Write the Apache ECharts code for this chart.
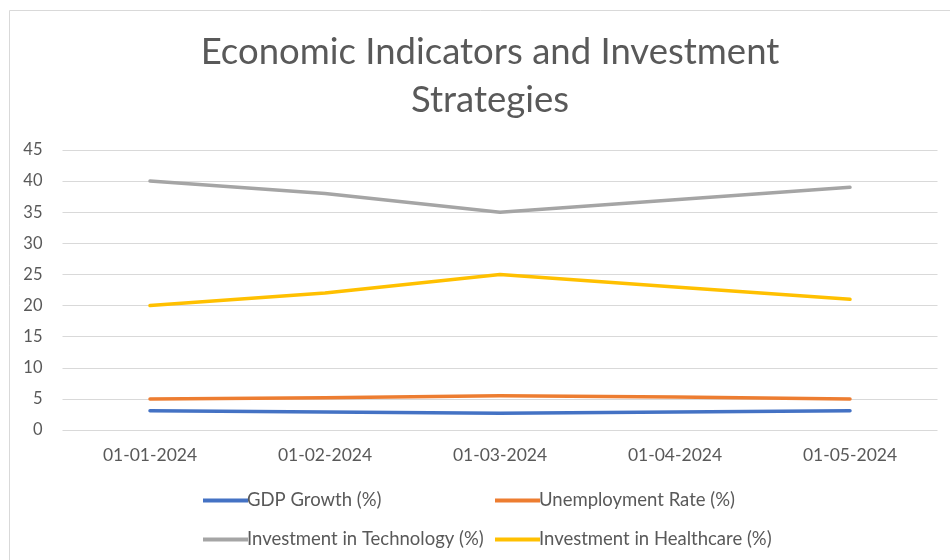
<!DOCTYPE html>
<html><head><meta charset="utf-8">
<script src="https://cdn.jsdelivr.net/npm/echarts@6/dist/echarts.min.js"></script>
<style>html,body{margin:0;padding:0;background:#fff}#c{width:950px;height:560px}</style>
</head><body><div id="c"></div>
<script>
const categories = ['01-01-2024','01-02-2024','01-03-2024','01-04-2024','01-05-2024'];
const gdpGrowth = [3.1, 2.9, 2.7, 2.9, 3.1];
const unemployment = [5.0, 5.2, 5.5, 5.3, 5.0];
const techInvestment = [40, 38, 35, 37, 39];
const healthInvestment = [20, 22, 25, 23, 21];
const seriesNames = ['GDP Growth (%)','Unemployment Rate (%)','Investment in Technology (%)','Investment in Healthcare (%)'];
const colors = ['#4472C4','#ED7D31','#A5A5A5','#FFC000'];
const yTicks = {min:0, max:45, interval:5};

const font = 'Lato, "Liberation Sans", sans-serif';
const chart = echarts.init(document.getElementById('c'));
const data = [gdpGrowth, unemployment, techInvestment, healthInvestment];
const legendPos = [[198,486],[490,486],[198,525],[490,525]];
chart.setOption({
  animation:false,
  color: colors,
  title:{text:'Economic Indicators and Investment\nStrategies', left:485, textAlign:'center', top:23,
    textStyle:{fontFamily:font, fontSize:36.5, fontWeight:'normal', color:'#595959', lineHeight:48}},
  graphic:[{type:'rect', shape:{x:9.5,y:10.5,width:960,height:560}, style:{fill:null, stroke:'#D9D9D9', lineWidth:1}, silent:true}],
  legend: seriesNames.map((n,i)=>({data:[n], left:legendPos[i][0], top:legendPos[i][1], itemWidth:45, itemHeight:4, itemGap:0,
    icon:'rect', textStyle:{fontFamily:font, fontSize:18.5, color:'#595959', padding:[0,0,0,-6]}})),
  grid:{left:62.5, right:12.5, top:150, bottom:130},
  xAxis:{type:'category', data:categories, boundaryGap:true,
    axisLine:{show:false}, axisTick:{show:false},
    axisLabel:{fontFamily:font, fontSize:17.5, color:'#595959', margin:16}},
  yAxis:{type:'value', min:yTicks.min, max:yTicks.max, interval:yTicks.interval,
    axisLine:{show:false}, axisTick:{show:false},
    splitLine:{lineStyle:{color:'#D9D9D9', width:1}},
    axisLabel:{fontFamily:font, fontSize:16.5, color:'#595959', margin:20}},
  series: seriesNames.map((n,i)=>({name:n, type:'line', data:data[i], showSymbol:false, symbol:'none',
    lineStyle:{width:3.5, color:colors[i], cap:'round', join:'round'}}))
});
</script></body></html>
